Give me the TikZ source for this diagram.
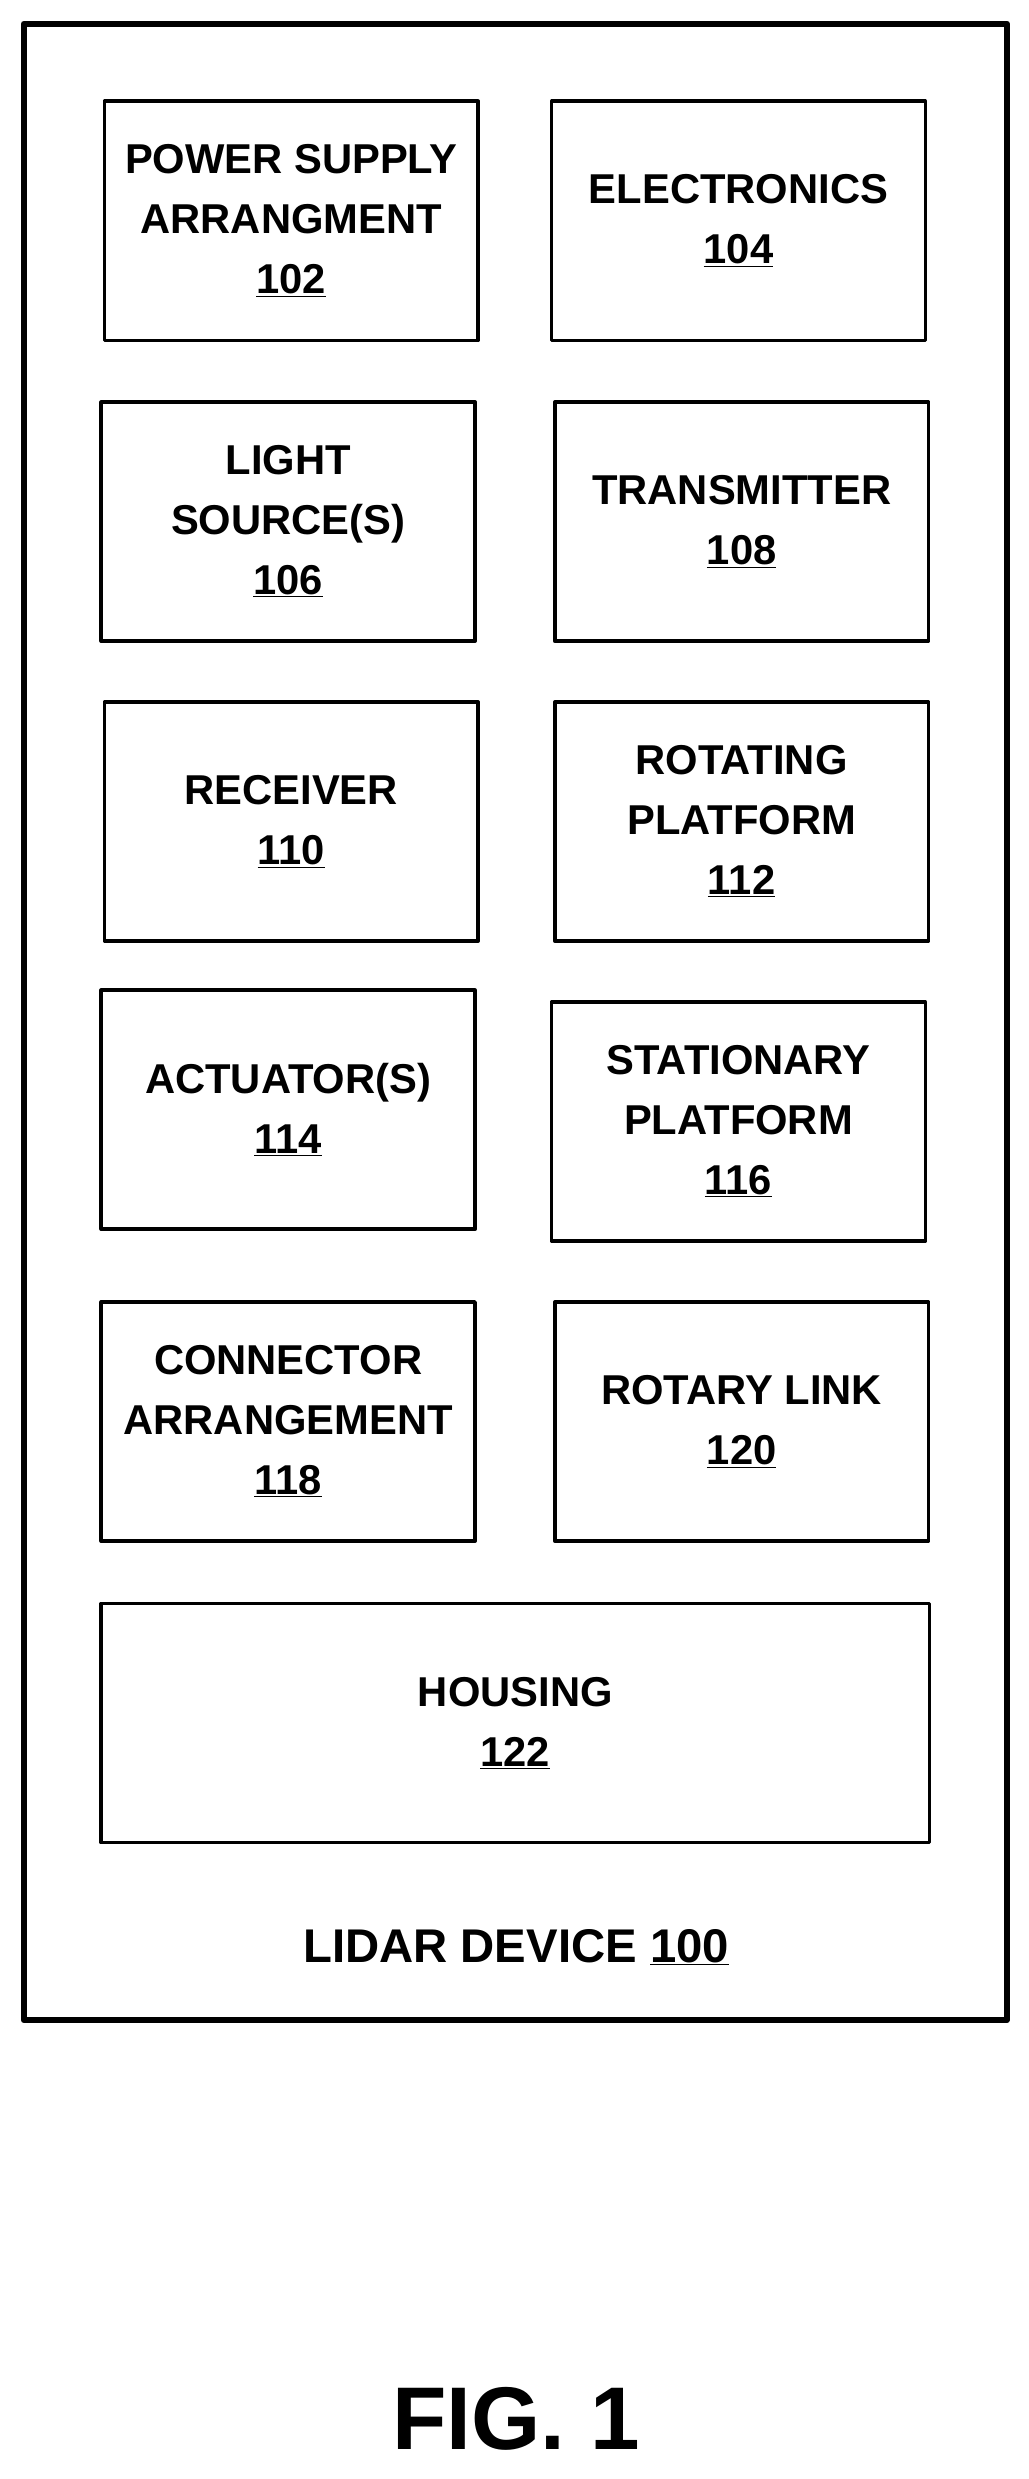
\documentclass[tikz,border=0pt]{standalone}
\usepackage{fontspec}
\setmainfont{Liberation Sans}
\usetikzlibrary{positioning}
\tikzset{
  blk/.style={draw,line width=2.6pt,minimum width=9.44cm,minimum height=6.04cm,
    align=center,font=\bfseries\fontsize{30}{43}\selectfont},
  num/.style={}
}
\newcommand{\refn}[1]{\underline{#1}}
\begin{document}
\begin{tikzpicture}[x=0.04cm,y=-0.04cm,line join=round]
\useasboundingbox (0,0) rectangle (650,1566);
\draw[line width=4.5pt] (15,15) rectangle (636,1276);
% first column
\node[blk] (psa) at (184,139.5) {POWER SUPPLY\\ARRANGMENT\\\refn{102}};
\node[blk] (ls) at (182,329.5) {LIGHT\\SOURCE(S)\\\refn{106}};
\node[blk] (rx) at (184,519) {RECEIVER\\\refn{110}};
\node[blk] (act) at (182,701) {ACTUATOR(S)\\\refn{114}};
\node[blk] (con) at (182,898) {CONNECTOR\\ARRANGEMENT\\\refn{118}};
% second column
\node[blk] (el) at (466.5,139.5) {ELECTRONICS\\\refn{104}};
\node[blk] (tx) at (468.5,329.5) {TRANSMITTER\\\refn{108}};
\node[blk] (rp) at (468.5,519) {ROTATING\\PLATFORM\\\refn{112}};
\node[blk] (sp) at (466.5,708.5) {STATIONARY\\PLATFORM\\\refn{116}};
\node[blk] (rl) at (468.5,898) {ROTARY LINK\\\refn{120}};
% housing
\node[blk,minimum width=20.92cm] (hs) at (325.5,1088.5) {HOUSING\\\refn{122}};
\node[font=\bfseries\fontsize{34}{40}\selectfont] (dev) at (326,1230) {LIDAR DEVICE \refn{100}};
\node[font=\bfseries\fontsize{64}{72}\selectfont] (fig) at (326,1528) {FIG. 1};
\end{tikzpicture}
\end{document}
